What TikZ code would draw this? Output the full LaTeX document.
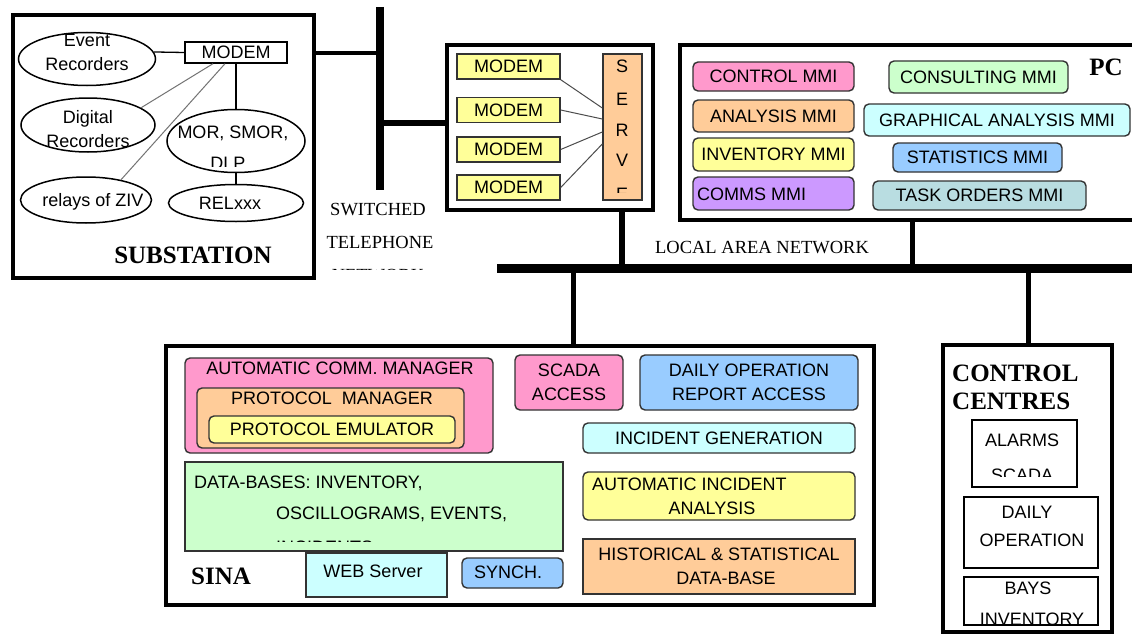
\documentclass[tikz,border=0pt]{standalone}
\usepackage{fontspec}
\setmainfont{Liberation Serif}
\setsansfont{Liberation Sans}
\usetikzlibrary{shapes.geometric}
\definecolor{cpink}{HTML}{FF99CC}
\definecolor{corange}{HTML}{FFCC99}
\definecolor{cyellow}{HTML}{FFFF99}
\definecolor{cpurple}{HTML}{CC99FF}
\definecolor{cgreen}{HTML}{CCFFCC}
\definecolor{ccyan}{HTML}{CCFFFF}
\definecolor{cblue}{HTML}{99CCFF}
\definecolor{cteal}{HTML}{B9DDE1}
\definecolor{cedge}{HTML}{333333}
\tikzset{
  wh/.style 2 args={minimum width=#1pt, minimum height=#2pt},
  big/.style={draw=black, line width=4.5pt, fill=white, inner sep=0pt},
  rbox/.style={draw=cedge, line width=1.4pt, rounded corners=5pt, inner sep=0pt},
  sbox/.style={draw=cedge, line width=1.4pt, inner sep=0pt},
  wbox/.style={draw=black, line width=1.4pt, fill=white, inner sep=0pt},
  ell/.style={ellipse, draw=black, line width=1.5pt, fill=white, inner sep=0pt},
  sf/.style={font=\sffamily\fontsize{18}{23.5}\selectfont, inner sep=0pt},
  rm/.style={font=\rmfamily\fontsize{18.5}{24}\selectfont, inner sep=0pt},
  bigrm/.style={font=\rmfamily\bfseries\fontsize{25}{28}\selectfont, inner sep=0pt},
  wire/.style={line width=1.3pt, draw=black},
  gwire/.style={line width=1pt, draw=black!55},
  bus/.style={line width=#1, draw=black},
}
\begin{document}
\begin{tikzpicture}[x=1pt,y=-1pt]
\useasboundingbox (0,0) rectangle (1132,634);
\clip (0,0) rectangle (1132,634);
\fill[white] (0,0) rectangle (1132,634);

% ---------------- SUBSTATION ----------------
\node[big, wh={301}{263}] (sub) at (163.5,146.5) {};
\node[wbox, wh={102}{21}] (smodem) at (236,52.5) {};
\node[sf] (smodemT) at (236,52.5) {MODEM};
\node[ell, wh={137}{53}] (evr) at (87,59) {};
\node[sf, align=center] (evrT) at (87,52.5) {Event\\Recorders};
\node[ell, wh={134}{54}] (dig) at (88,125) {};
\node[sf, align=center] (digT) at (88,129) {Digital\\Recorders};
\node[ell, wh={138}{63}] (mor) at (236,141) {};
\node[sf] (morT) at (233,133) {MOR, SMOR,};
\begin{scope}
  \clip (166,150) rectangle (306,166);
  \node[sf] (morT2) at (228,163) {DLP};
\end{scope}
\node[ell, wh={131}{46}] (ziv) at (86,200) {};
\node[sf] (zivT) at (93,202) {relays of ZIV};
\node[ell, wh={135}{37}] (rel) at (236,203) {};
\node[sf] (relT) at (230,203) {RELxxx};
\node[bigrm] (subL) at (193,255) {SUBSTATION};

\draw[wire] (smodem.west) -- (evr.6);
\draw[wire] (smodem.south) -- (mor.north);
\draw[wire] (mor.south) -- (rel.north);
\draw[gwire] ([xshift=-23pt]smodem.south) -- (dig.18);
\draw[gwire] ([xshift=-11pt]smodem.south) -- (ziv.30);

% ---------------- SERVER ----------------
\node[big, wh={206}{165}] (srv) at (550,127.5) {};
\node[sbox, fill=cyellow, wh={103}{25}, sf] (m1) at (508.5,66.5) {MODEM};
\node[sbox, fill=cyellow, wh={103}{25}, sf] (m2) at (508.5,110) {MODEM};
\node[sbox, fill=cyellow, wh={103}{25}, sf] (m3) at (508.5,149.5) {MODEM};
\node[sbox, fill=cyellow, wh={103}{25}, sf] (m4) at (508.5,187.5) {MODEM};
\node[sbox, fill=corange, wh={39}{146}] (serv) at (622.5,127) {};
\node[sf] (sv1) at (622,66) {S};
\node[sf] (sv2) at (622,99) {E};
\node[sf] (sv3) at (622,130) {R};
\node[sf] (sv4) at (622,160) {V};
\begin{scope}
  \clip (603,175) rectangle (642,192);
  \node[sf] (sv5) at (622,194) {E};
\end{scope}
\draw[gwire, draw=black!70] (m1.south east) -- ([yshift=19pt]serv.west);
\draw[gwire, draw=black!70] (m2.east) -- ([yshift=8pt]serv.west);
\draw[gwire, draw=black!70] (m3.east) -- ([yshift=-5pt]serv.west);
\draw[gwire, draw=black!70] (m4.east) -- ([yshift=-17pt]serv.west);

% ---------------- PC ----------------
\node[big, wh={465}{175}] (pc) at (912.5,132.5) {};
\node[rbox, fill=cpink, wh={161}{29}, sf] (ctrl) at (773.5,76.5) {CONTROL MMI};
\node[rbox, fill=corange, wh={161}{32}, sf] (anl) at (773.5,116) {ANALYSIS MMI};
\node[rbox, fill=cyellow, wh={161}{33}, sf] (inv) at (773.5,154.5) {INVENTORY MMI};
\node[rbox, fill=cpurple, wh={161}{33}] (comms) at (773.5,193.5) {};
\node[sf, anchor=west] (commsT) at (697,194) {COMMS MMI};
\node[rbox, fill=cgreen, wh={179}{32}, sf] (cons) at (978.5,77) {CONSULTING MMI};
\node[rbox, fill=ccyan, wh={266}{32}, sf] (graph) at (997,120) {GRAPHICAL ANALYSIS MMI};
\node[rbox, fill=cblue, wh={169}{29}, sf] (stat) at (977.5,157.5) {STATISTICS MMI};
\node[rbox, fill=cteal, wh={213}{29}, sf] (task) at (979.5,195.5) {TASK ORDERS MMI};
\node[bigrm] (pcL) at (1106,67) {PC};

% ---------------- TELEPHONE ----------------
\coordinate (barT) at (380,7);
\coordinate (barB) at (380,190);
\coordinate (tel1) at (380,53);
\coordinate (tel2) at (380,123);
\draw[bus=8pt] (barT) -- (barB);
\draw[bus=4.5pt] (sub.east |- tel1) -- (tel1);
\draw[bus=5.5pt] (tel2) -- (srv.west |- tel2);
\node[rm] (sw1) at (378,210) {SWITCHED};
\node[rm] (sw2) at (380,242) {TELEPHONE};
\begin{scope}
  \clip (320,260) rectangle (445,269.5);
  \node[rm] (sw3) at (378,276) {NETWORK};
\end{scope}

% ---------------- SINA ----------------
\node[big, wh={708}{259}] (sina) at (520,475.5) {};
\node[rbox, fill=cpink, wh={308}{95}] (acm) at (339,405.5) {};
\node[sf] (acmT) at (340,368) {AUTOMATIC COMM. MANAGER};
\node[rbox, fill=corange, wh={267}{60}] (pm) at (330.5,418) {};
\node[sf] (pmT) at (332,398) {PROTOCOL\ \ MANAGER};
\node[rbox, fill=cyellow, wh={246}{27}, sf] (pe) at (332,429.5) {PROTOCOL EMULATOR};
\node[rbox, fill=cpink, wh={108}{55}, sf, align=center] (scada) at (569,382.5) {SCADA\\ACCESS};
\node[rbox, fill=cblue, wh={218}{55}, sf, align=center] (dor) at (749,382.5) {DAILY OPERATION\\REPORT ACCESS};
\node[rbox, fill=ccyan, wh={272}{30}, sf] (igen) at (719,438) {INCIDENT GENERATION};
\node[rbox, fill=cyellow, wh={272}{48}] (aia) at (719,496) {};
\node[sf, anchor=west] (aiaT1) at (592,484) {AUTOMATIC INCIDENT};
\node[sf] (aiaT2) at (712,508) {ANALYSIS};
\node[sbox, fill=corange, wh={272}{55}, sf, align=center] (hist) at (719,566.5) {HISTORICAL \& STATISTICAL\\\hspace*{14pt}DATA-BASE};
\node[sbox, fill=cgreen, wh={378}{89}] (db) at (374,506.5) {};
\node[sf, anchor=west] (dbT1) at (194,483) {DATA-BASES: INVENTORY,};
\node[sf, anchor=west] (dbT2) at (276,514) {OSCILLOGRAMS, EVENTS,};
\begin{scope}
  \clip (185,530) rectangle (563,541);
  \node[sf, anchor=west] (dbT3) at (276,548) {INCIDENTS,};
\end{scope}
\node[sbox, fill=ccyan, wh={141}{44}] (web) at (376.5,575) {};
\node[sf] (webT) at (373,571) {WEB Server};
\node[rbox, fill=cblue, wh={101}{30}] (synch) at (512.5,573) {};
\node[sf] (synchT) at (508,572) {SYNCH.};
\node[bigrm] (sinaL) at (221,576) {SINA};

% ---------------- CONTROL CENTRES ----------------
\node[big, wh={169}{287}] (cc) at (1027.5,488.5) {};
\node[bigrm, anchor=west] (ccT1) at (952,373) {CONTROL};
\node[bigrm, anchor=west] (ccT2) at (952,401) {CENTRES};
\node[wbox, wh={105}{67}] (alm) at (1024.5,453.5) {};
\node[sf] (almT) at (1022,440) {ALARMS};
\begin{scope}
  \clip (972,460) rectangle (1077,476);
  \node[sf] (almT2) at (1022,475) {SCADA};
\end{scope}
\node[wbox, wh={134}{71}] (dop) at (1031,532.5) {};
\node[sf] (dopT1) at (1027,512) {DAILY};
\node[sf] (dopT2) at (1032,540) {OPERATION};
\node[wbox, wh={134}{48}] (bay) at (1031,601) {};
\node[sf] (bayT1) at (1028,588) {BAYS};
\begin{scope}
  \clip (964,600) rectangle (1098,623);
  \node[sf] (bayT2) at (1032,619) {INVENTORY};
\end{scope}

% ---------------- LAN ----------------
\coordinate (lanL) at (497,268);
\coordinate (lanR) at (1134,268);
\coordinate (sd) at (622,210);
\coordinate (s1) at (573,268);
\coordinate (c1) at (1028,268);
\draw[bus=9pt] (lanL) -- (lanR);
\draw[bus=6pt] (sd |- srv.south) -- (sd |- lanL);
\draw[bus=4.5pt] (pc.south) -- (pc.south |- lanL);
\draw[bus=5pt] (s1) -- (s1 |- sina.north);
\draw[bus=5pt] (c1) -- (c1 |- cc.north);
\node[rm] (lanT) at (762,248) {LOCAL AREA NETWORK};
\end{tikzpicture}
\end{document}
